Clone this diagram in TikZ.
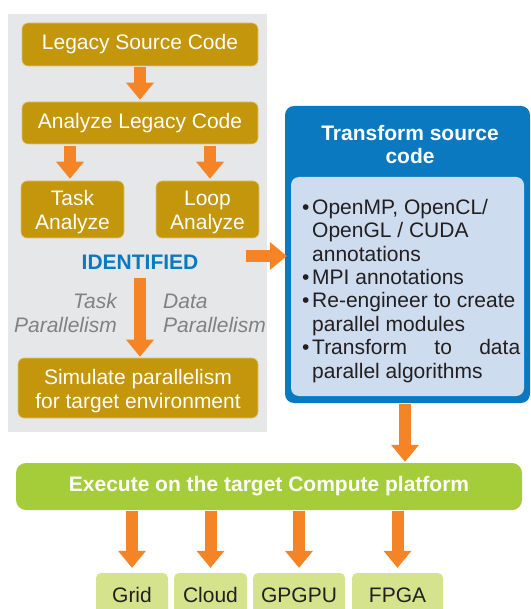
\documentclass[tikz,border=0pt]{standalone}
\usepackage{fontspec}
\setmainfont{Liberation Sans}
\usetikzlibrary{arrows.meta}
\definecolor{gold}{HTML}{C4960B}
\definecolor{arrowor}{HTML}{F58426}
\definecolor{tfblue}{HTML}{0A79BF}
\definecolor{lightblue}{HTML}{CDDCEE}
\definecolor{execgreen}{HTML}{A5CD39}
\definecolor{lightgreen}{HTML}{D5E48C}
\definecolor{bggray}{HTML}{E6E7E8}
\definecolor{labelgray}{HTML}{808184}
\definecolor{darktext}{HTML}{231F20}
\newcommand\mybul{\makebox[10pt][l]{•}}
\newcommand\myind{\hspace*{10pt}}
\begin{document}
\begin{tikzpicture}[x=1pt,y=-1pt,
  basefont/.style={font=\fontsize{21}{24}\selectfont},
  goldbox/.style={basefont, fill=gold, draw=gold!55!white, line width=0.6pt, rounded corners=6pt,
    text=white, align=center, inner sep=0pt},
  twoline/.style={text height=44.5pt, text depth=4.4pt},
  barrow/.style={draw=arrowor, line width=12pt, -{Triangle[width=28pt,length=17pt,line width=0pt]}},
  platbox/.style={basefont, fill=lightgreen, rounded corners=5pt, text=darktext, inner sep=0pt,
    minimum height=44pt},
  sidelabel/.style={font=\fontsize{21}{24}\selectfont\itshape, text=labelgray, inner sep=0pt}
]
\useasboundingbox (0,0) rectangle (530,609);
% gray background panel
\node[fill=bggray, minimum width=259pt, minimum height=418pt, inner sep=0pt] (bg) at (137.5,223) {};

\node[goldbox, minimum width=236pt, minimum height=43pt] (legacy) at (140,44.5) {Legacy Source Code};
\node[goldbox, minimum width=236pt, minimum height=42pt] (analyze) at (140,123) {Analyze Legacy Code};
\node[goldbox, twoline, minimum width=103pt, minimum height=57pt] (task) at (72.5,209.5) {Task\\Analyze};
\node[goldbox, twoline, minimum width=103pt, minimum height=57pt] (loop) at (207.5,209.5) {Loop\\Analyze};
\node[basefont, font=\fontsize{21}{24}\selectfont\bfseries, text=tfblue, inner sep=0pt] (ident) at (140,262.5) {IDENTIFIED};
\node[sidelabel, anchor=east, align=right] (tpar) at (117,313) {Task\\Parallelism};
\node[sidelabel, anchor=west, align=left] (dpar) at (163,313) {Data\\Parallelism};
\node[goldbox, twoline, minimum width=240pt, minimum height=60pt] (sim) at (138,388) {Simulate parallelism\\for target environment};

\draw[barrow] ([yshift=-1pt]legacy.south) -- ([yshift=2pt]analyze.north);
\draw[barrow] ([yshift=-2pt]analyze.south -| 70,0) -- ([yshift=2pt]task.north -| 70,0);
\draw[barrow] ([yshift=-2pt]analyze.south -| 210,0) -- ([yshift=2pt]loop.north -| 210,0);
\draw[barrow] ([yshift=-8.5pt]ident.south) -- ([yshift=1pt]sim.north -| ident.south);

% transform block
\node[fill=tfblue, rounded corners=9pt, minimum width=245pt, minimum height=297pt, inner sep=0pt] (tf) at (407.5,254.5) {};
\node[font=\fontsize{21}{23}\selectfont\bfseries, text=white, align=center, inner sep=0pt] (tftitle) at (410,144.5) {Transform source\\code};
\node[fill=lightblue, rounded corners=8pt, minimum width=233pt, minimum height=219pt, inner sep=0pt] (inner) at (407.5,286.5) {};
\node[anchor=base west, align=left, inner sep=0pt, font=\fontsize{21}{23.4}\selectfont, text=darktext] (list) at (302,378)
 {\mybul OpenMP, OpenCL/\\
  \myind OpenGL / CUDA\\
  \myind annotations\\
  \mybul MPI annotations\\
  \mybul Re-engineer to create\\
  \myind parallel modules\\
  \mybul\makebox[208pt][s]{Transform to data}\\
  \myind parallel algorithms};

\coordinate (rs) at (246,256);
\draw[barrow] (rs) -- ([xshift=2pt]tf.west |- rs);

% execute bar
\node[fill=execgreen, rounded corners=10pt, minimum width=506pt, minimum height=47pt, inner sep=0pt,
  font=\fontsize{21}{24}\selectfont\bfseries, text=white] (exec) at (269,486.5) {Execute on the target Compute platform};
\draw[barrow] ([yshift=-1pt]tf.south -| 405,0) -- ([yshift=1pt]exec.north -| 405,0);

% platforms
\node[platbox, minimum width=72pt] (grid) at (132,595) {Grid};
\node[platbox, minimum width=73pt] (cloud) at (210.5,595) {Cloud};
\node[platbox, minimum width=92pt] (gpgpu) at (299,595) {GPGPU};
\node[platbox, minimum width=91pt] (fpga) at (397.5,595) {FPGA};
\foreach \p in {grid,cloud,gpgpu,fpga}
  \draw[barrow] ([yshift=-1pt]exec.south -| \p.north) -- ([yshift=5pt]\p.north);
\end{tikzpicture}
\end{document}
